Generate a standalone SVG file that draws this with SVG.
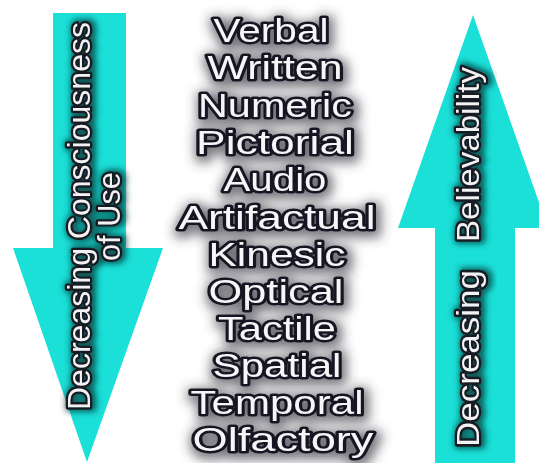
<svg xmlns="http://www.w3.org/2000/svg" width="539" height="463" viewBox="0 0 539 463">
<defs>
<style>
.arrow{fill:#1ae0d8;}
.w{font-family:"Liberation Sans",Arial,sans-serif;font-weight:normal;font-size:33px;fill:#f6f6f8;stroke:#181824;stroke-width:5;paint-order:stroke;stroke-linejoin:round;text-anchor:middle;}
.a{font-family:"Liberation Sans",Arial,sans-serif;font-weight:normal;font-size:31px;fill:#f2f2f4;stroke:#141a22;stroke-width:4.5;paint-order:stroke;stroke-linejoin:round;}
</style>
<filter id="glow" x="-30%" y="-60%" width="160%" height="220%">
<feMorphology in="SourceAlpha" operator="dilate" radius="3" result="d"/>
<feGaussianBlur in="d" stdDeviation="6" result="b"/>
<feOffset in="b" dx="2" dy="3" result="o"/>
<feFlood flood-color="#3a3a44" flood-opacity="0.7"/>
<feComposite in2="o" operator="in" result="s"/>
<feMerge><feMergeNode in="s"/><feMergeNode in="SourceGraphic"/></feMerge>
</filter>
<filter id="aglow" x="-30%" y="-10%" width="160%" height="120%">
<feMorphology in="SourceAlpha" operator="dilate" radius="2" result="d"/>
<feGaussianBlur in="d" stdDeviation="3" result="b"/>
<feOffset in="b" dx="2" dy="0" result="o"/>
<feFlood flood-color="#0a3a3a" flood-opacity="0.8"/>
<feComposite in2="o" operator="in" result="s"/>
<feMerge><feMergeNode in="s"/><feMergeNode in="SourceGraphic"/></feMerge>
</filter>
</defs>
<rect width="539" height="463" fill="#ffffff"/>

<g id="connectors">
<g id="arrow-down">
<polygon class="arrow" points="53,13 126,13 126,248 163,248 87,462 13,248 53,248"/>
<g filter="url(#aglow)">
<text class="a" transform="translate(90,0) rotate(-90)" x="-410" y="0" textLength="388" lengthAdjust="spacingAndGlyphs">Decreasing Consciousness</text>
<text class="a" transform="translate(120,0) rotate(-90)" x="-261" y="0" textLength="89" lengthAdjust="spacingAndGlyphs">of Use</text>
</g>
</g>
<g id="arrow-up">
<polygon class="arrow" points="473,15 548,228 515,228 515,463 435,463 435,228 398,228"/>
<g filter="url(#aglow)">
<text class="a" transform="translate(479,0) rotate(-90)" y="0"><tspan x="-447" textLength="177" lengthAdjust="spacingAndGlyphs">Decreasing</tspan><tspan x="-242" textLength="175" lengthAdjust="spacingAndGlyphs">Believability</tspan></text>
</g>
</g>
</g>

<g id="verbal" filter="url(#glow)"><text class="w" x="271" y="42" textLength="115" lengthAdjust="spacingAndGlyphs">Verbal</text></g>
<g id="written" filter="url(#glow)"><text class="w" x="275" y="79" textLength="135" lengthAdjust="spacingAndGlyphs">Written</text></g>
<g id="numeric" filter="url(#glow)"><text class="w" x="275" y="117" textLength="154" lengthAdjust="spacingAndGlyphs">Numeric</text></g>
<g id="pictorial" filter="url(#glow)"><text class="w" x="275" y="154" textLength="158" lengthAdjust="spacingAndGlyphs">Pictorial</text></g>
<g id="audio" filter="url(#glow)"><text class="w" x="275" y="191" textLength="103" lengthAdjust="spacingAndGlyphs">Audio</text></g>
<g id="artifactual" filter="url(#glow)"><text class="w" x="277" y="229" textLength="197" lengthAdjust="spacingAndGlyphs">Artifactual</text></g>
<g id="kinesic" filter="url(#glow)"><text class="w" x="277" y="266" textLength="137" lengthAdjust="spacingAndGlyphs">Kinesic</text></g>
<g id="optical" filter="url(#glow)"><text class="w" x="276" y="303" textLength="135" lengthAdjust="spacingAndGlyphs">Optical</text></g>
<g id="tactile" filter="url(#glow)"><text class="w" x="277" y="340" textLength="118" lengthAdjust="spacingAndGlyphs">Tactile</text></g>
<g id="spatial" filter="url(#glow)"><text class="w" x="277" y="377" textLength="129" lengthAdjust="spacingAndGlyphs">Spatial</text></g>
<g id="temporal" filter="url(#glow)"><text class="w" x="277" y="414" textLength="173" lengthAdjust="spacingAndGlyphs">Temporal</text></g>
<g id="olfactory" filter="url(#glow)"><text class="w" x="283" y="451" textLength="181" lengthAdjust="spacingAndGlyphs">Olfactory</text></g>
</svg>
